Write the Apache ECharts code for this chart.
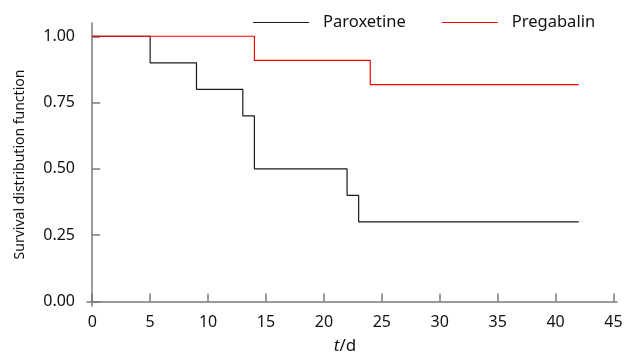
<!DOCTYPE html>
<html>
<head>
<meta charset="utf-8">
<script src="https://cdn.jsdelivr.net/npm/echarts@6/dist/echarts.min.js"></script>
<style>html,body{margin:0;padding:0;background:#fff}#c{width:627px;height:356px}</style>
</head>
<body>
<div id="c"></div>
<script>
// Step points (time in days, survival)
const paroxetineT = [0, 5, 9, 13, 14, 22, 23, 42];
const paroxetineS = [1.0, 0.9, 0.8, 0.7, 0.5, 0.4, 0.3, 0.3];
const pregabalinT = [0, 14, 24, 42];
const pregabalinS = [1.0, 0.909, 0.818, 0.818];
const xTicks = [0, 5, 10, 15, 20, 25, 30, 35, 40, 45];
const yTicks = [0, 0.25, 0.5, 0.75, 1.0];
const seriesNames = ['Paroxetine', 'Pregabalin'];

const FONT = 'Noto Sans';
const axisGrey = '#7a7a7a';
const chart = echarts.init(document.getElementById('c'), null, {renderer: 'canvas'});
const zip = (a, b) => a.map((v, i) => [v, b[i]]);

chart.setOption({
  animation: false,
  backgroundColor: '#fff',
  textStyle: {fontFamily: FONT},
  grid: {left: 87, right: 10, top: 23, bottom: 50, containLabel: false, outerBoundsMode: 'none'},
  legend: {
    left: 253, top: 14, padding: 0,
    icon: 'rect', itemWidth: 56, itemHeight: 1, itemGap: 36,
    textStyle: {fontFamily: FONT, fontSize: 16.5, color: '#111', padding: [0, 0, 0, 9]},
    data: seriesNames
  },
  xAxis: {
    type: 'value', min: -0.45, max: 45.3,
    name: '{i|t}/d', nameLocation: 'middle', nameGap: 32,
    nameTextStyle: {fontFamily: FONT, fontSize: 17, color: '#111', padding: [0, 14, 0, 0],
      rich: {i: {fontStyle: 'italic', fontFamily: FONT, fontSize: 17, color: '#111'}}},
    axisLine: {show: true, lineStyle: {color: axisGrey, width: 1.5}},
    axisTick: {show: true, inside: true, length: 8, customValues: xTicks, lineStyle: {color: axisGrey, width: 1.5}},
    axisLabel: {customValues: xTicks, fontFamily: FONT, fontSize: 16, color: '#111', margin: 8},
    splitLine: {show: false}
  },
  yAxis: {
    type: 'value', min: -0.017, max: 1.05,
    name: 'Survival distribution function', nameLocation: 'middle', nameGap: 60,
    nameTextStyle: {fontFamily: FONT, fontSize: 14, color: '#111'},
    axisLine: {show: true, lineStyle: {color: axisGrey, width: 1.5}},
    axisTick: {show: true, inside: true, length: 8, customValues: yTicks, lineStyle: {color: axisGrey, width: 1.5}},
    axisLabel: {customValues: yTicks, fontFamily: FONT, fontSize: 16, color: '#111', margin: 12,
      formatter: v => v.toFixed(2)},
    splitLine: {show: false}
  },
  series: [
    {name: seriesNames[0], type: 'line', step: 'end', symbol: 'none',
     data: zip(paroxetineT, paroxetineS),
     lineStyle: {color: '#1a1a1a', width: 1.2}, itemStyle: {color: '#1a1a1a'}},
    {name: seriesNames[1], type: 'line', step: 'end', symbol: 'none',
     data: zip(pregabalinT, pregabalinS),
     lineStyle: {color: '#ff0000', width: 1.2}, itemStyle: {color: '#ff0000'}}
  ]
});
</script>
</body>
</html>
